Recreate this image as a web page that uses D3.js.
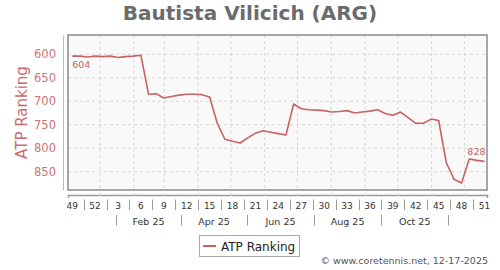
<!DOCTYPE html>
<html>
<head>
<meta charset="utf-8">
<script src="https://cdn.jsdelivr.net/npm/d3@7"></script>
<style>
  body { margin: 0; background: #fff; font-family: "DejaVu Sans", sans-serif; }
</style>
</head>
<body>
<div id="chart"></div>
<script>
// weekly ATP ranking, week 49 of 2024 to week 51 of 2025
const weekNumbers = [49, 50, 51, 52, 1, 2, 3, 4, 5, 6, 7, 8, 9, 10, 11, 12, 13, 14, 15, 16,
  17, 18, 19, 20, 21, 22, 23, 24, 25, 26, 27, 28, 29, 30, 31, 32, 33, 34, 35, 36,
  37, 38, 39, 40, 41, 42, 43, 44, 45, 46, 47, 48, 49, 50, 51];
const ranks = [604, 604, 606, 604, 605, 604, 607, 605, 604, 602,
  685, 684, 693, 690, 687, 685, 685, 686, 691, 747,
  781, 785, 789, 778, 768, 763, 766, 769, 772, 706,
  716, 718, 719, 720, 723, 722, 720, 725, 723, 721,
  718, 726, 730, 723, 735, 747, 747, 738, 741, 831,
  866, 874, 823, 826, 828];
const rankTicks = [600, 650, 700, 750, 800, 850];
const monthLabels = ["Feb 25", "Apr 25", "Jun 25", "Aug 25", "Oct 25"];

const lineColor = "#c96262";
const W = 500, H = 270;
const plot = { left: 68, right: 487, top: 35, bottom: 190 };

const svg = d3.select("#chart").append("svg")
  .attr("width", W)
  .attr("height", H)
  .style("font-family", "'DejaVu Sans', sans-serif");

const firstWeek = new Date(Date.UTC(2024, 11, 6, 12));
const data = ranks.map((r, i) => ({
  date: d3.utcDay.offset(firstWeek, 7 * i),
  week: weekNumbers[i],
  rank: r,
}));

const xScale = d3.scaleUtc()
  .domain([new Date(Date.UTC(2024, 11, 2, 16)), new Date(Date.UTC(2025, 11, 21, 19))])
  .range([plot.left, plot.right]);
const yScale = d3.scaleLinear().domain([559, 889]).range([plot.top, plot.bottom]);

// title
svg.append("text")
  .attr("x", 250)
  .attr("y", 19.5)
  .attr("text-anchor", "middle")
  .attr("font-size", "20px")
  .attr("font-weight", "bold")
  .attr("fill", "#6b6b6b")
  .text("Bautista Vilicich (ARG)");

// plot background
svg.append("rect")
  .attr("x", plot.left)
  .attr("y", plot.top)
  .attr("width", plot.right - plot.left)
  .attr("height", plot.bottom - plot.top)
  .attr("fill", "#f9f9f9");

// grid
const monthStarts = xScale.ticks(d3.utcMonth);
svg.append("g")
  .selectAll("line")
  .data(monthStarts)
  .enter()
  .append("line")
  .attr("x1", (d) => xScale(d))
  .attr("x2", (d) => xScale(d))
  .attr("y1", plot.top)
  .attr("y2", plot.bottom)
  .attr("stroke", "#d6d6d6")
  .attr("stroke-dasharray", "3,3");

svg.append("g")
  .selectAll("line")
  .data(rankTicks)
  .enter()
  .append("line")
  .attr("x1", plot.left)
  .attr("x2", plot.right)
  .attr("y1", (d) => yScale(d))
  .attr("y2", (d) => yScale(d))
  .attr("stroke", "#d6d6d6")
  .attr("stroke-dasharray", "3,3");

// frame
svg.append("rect")
  .attr("x", plot.left)
  .attr("y", plot.top)
  .attr("width", plot.right - plot.left)
  .attr("height", plot.bottom - plot.top)
  .attr("fill", "none")
  .attr("stroke", "#8a8a8a")
  .attr("stroke-width", 1.5);

// y axis
const yAxis = d3.axisLeft(yScale).tickValues(rankTicks).tickSize(0).tickPadding(7);
const yAxisGroup = svg.append("g")
  .attr("transform", "translate(63,0)")
  .call(yAxis);
yAxisGroup.select(".domain").attr("stroke", "#e2a8a8");
yAxisGroup.selectAll("text")
  .attr("font-size", "11.5px")
  .attr("font-family", "'DejaVu Sans', sans-serif")
  .attr("fill", "#cc7474");

svg.append("text")
  .attr("transform", `translate(27, ${(plot.top + plot.bottom) / 2}) rotate(-90)`)
  .attr("text-anchor", "middle")
  .attr("font-size", "15px")
  .attr("fill", "#c96b6b")
  .text("ATP Ranking");

// x axis
const xAxis = d3.axisBottom(xScale).ticks(d3.utcMonth).tickSize(3).tickFormat("");
const xAxisGroup = svg.append("g")
  .attr("transform", "translate(0,195)")
  .call(xAxis);
xAxisGroup.select(".domain").attr("stroke", "#9a9a9a").attr("stroke-width", 1.5);
xAxisGroup.selectAll(".tick line").attr("stroke", "#cfcfcf").attr("transform", "translate(0,-2)");

const weekTicks = data.filter((d, i) => i % 3 === 0);
svg.append("g")
  .selectAll("text")
  .data(weekTicks)
  .enter()
  .append("text")
  .attr("x", (d) => xScale(d.date))
  .attr("y", 208.5)
  .attr("text-anchor", "middle")
  .attr("font-size", "9px")
  .attr("fill", "#333")
  .text((d) => d.week);

// separators between week labels (1.5 weeks before each label)
svg.append("g")
  .selectAll("line")
  .data(weekTicks.slice(1))
  .enter()
  .append("line")
  .attr("x1", (d) => Math.round(xScale(d3.utcHour.offset(d.date, -252))) + 0.5)
  .attr("x2", (d) => Math.round(xScale(d3.utcHour.offset(d.date, -252))) + 0.5)
  .attr("y1", 199.5)
  .attr("y2", 210)
  .attr("stroke", "#9a9a9a");

// month row
const monthSeps = d3.range(monthLabels.length + 1).map((i) => new Date(Date.UTC(2025, 2 * i, 16)));
svg.append("g")
  .selectAll("text")
  .data(monthLabels)
  .enter()
  .append("text")
  .attr("x", (d, i) => (xScale(monthSeps[i]) + xScale(monthSeps[i + 1])) / 2)
  .attr("y", 224.5)
  .attr("text-anchor", "middle")
  .attr("font-size", "9.5px")
  .attr("fill", "#333")
  .text((d) => d);

svg.append("g")
  .selectAll("line")
  .data(monthSeps)
  .enter()
  .append("line")
  .attr("x1", (d) => Math.round(xScale(d)) + 0.5)
  .attr("x2", (d) => Math.round(xScale(d)) + 0.5)
  .attr("y1", 215)
  .attr("y2", 225.5)
  .attr("stroke", "#9a9a9a");

// ranking line
const line = d3.line()
  .x((d) => xScale(d.date))
  .y((d) => yScale(d.rank));

svg.append("path")
  .datum(data)
  .attr("d", line)
  .attr("fill", "none")
  .attr("stroke", lineColor)
  .attr("stroke-width", 1.6)
  .attr("stroke-linejoin", "round");

// first / last value labels
const first = data[0], last = data[data.length - 1];
svg.append("text")
  .attr("x", xScale(first.date))
  .attr("y", yScale(first.rank) + 12)
  .attr("font-size", "9.5px")
  .attr("fill", lineColor)
  .text(first.rank);
svg.append("text")
  .attr("x", xScale(last.date) + 1)
  .attr("y", yScale(last.rank) - 6)
  .attr("text-anchor", "end")
  .attr("font-size", "9.5px")
  .attr("fill", lineColor)
  .text(last.rank);

// legend
const legend = svg.append("g").attr("transform", "translate(199,235)");
legend.append("rect")
  .attr("x", 0.5)
  .attr("y", 0.5)
  .attr("width", 100)
  .attr("height", 21)
  .attr("fill", "#fff")
  .attr("stroke", "#aaa");
legend.append("line")
  .attr("x1", 4)
  .attr("x2", 17)
  .attr("y1", 11)
  .attr("y2", 11)
  .attr("stroke", lineColor)
  .attr("stroke-width", 2);
legend.append("text")
  .attr("x", 22)
  .attr("y", 15.5)
  .attr("font-size", "12px")
  .attr("fill", "#222")
  .text("ATP Ranking");

// credit
svg.append("text")
  .attr("x", 488)
  .attr("y", 264)
  .attr("text-anchor", "end")
  .attr("font-size", "9.5px")
  .attr("fill", "#555")
  .text("© www.coretennis.net, 12-17-2025");
</script>
</body>
</html>
